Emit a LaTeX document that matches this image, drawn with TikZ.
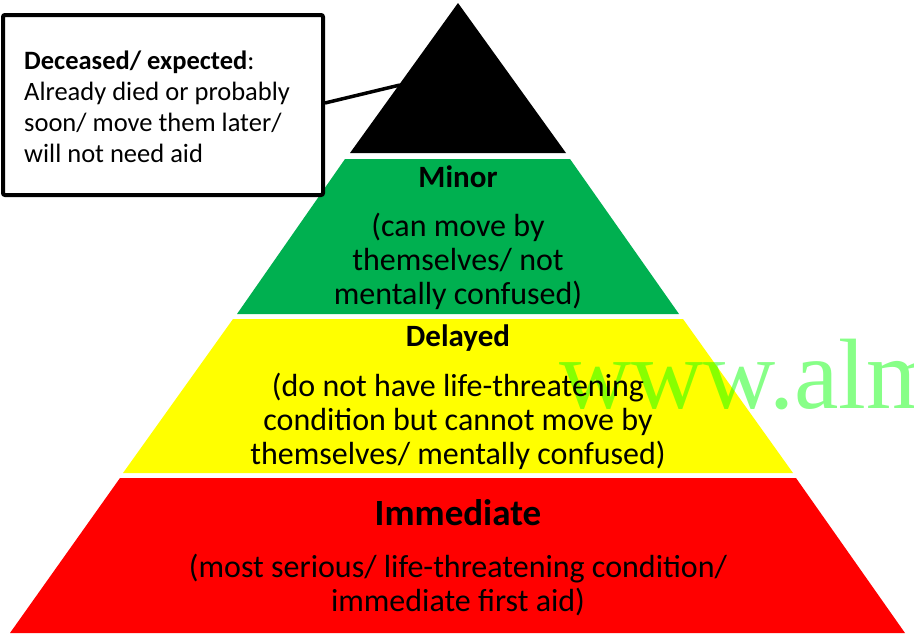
\documentclass[tikz,border=0pt]{standalone}
\usepackage{fontspec}
\setmainfont{Carlito}
\newfontfamily\wmfont{Liberation Serif}
\definecolor{lvgreen}{RGB}{0,176,80}
\definecolor{lvyellow}{RGB}{255,255,0}
\definecolor{lvred}{RGB}{255,0,0}
\definecolor{wmgreen}{RGB}{0,255,0}
\tikzset{
  lvtitle/.style={anchor=base, font=\fontsize{31}{35}\selectfont\bfseries},
  lvbig/.style={anchor=base, font=\fontsize{37}{40}\selectfont\bfseries},
  lvbody/.style={anchor=base, align=center, font=\fontsize{32}{35}\selectfont},
  callbox/.style={draw, line width=4pt, rounded corners=2pt, minimum width=320pt, minimum height=180pt, inner sep=0pt},
  calltext/.style={anchor=base west, align=left, inner sep=0pt, font=\fontsize{26.5}{31}\selectfont},
}
\begin{document}
\begin{tikzpicture}[x=1pt,y=-1pt]
\clip (0,0) rectangle (914,637);
\fill[white] (0,0) rectangle (914,637);
% pyramid levels
\fill[black]    (458,3) -- (566,153) -- (350,153) -- cycle;
\fill[lvgreen]  (345,159) -- (570,159) -- (679,314) -- (237,314) -- cycle;
\fill[lvyellow] (233,319) -- (683,319) -- (793,473) -- (123,473) -- cycle;
\fill[lvred]    (120,478) -- (796,478) -- (905,633) -- (10,633) -- cycle;
% watermark
\node[anchor=base west, inner sep=0pt, text=wmgreen, text opacity=0.47, font=\wmfont\fontsize{100}{104}\selectfont] (wm) at (559,408) {www.alm};
% level texts
\node[lvtitle] (minor) at (458,187) {Minor};
\node[lvbody] (minorA) at (458,236) {(can move by};
\node[lvbody] (minorB) at (458,270) {themselves/ not};
\node[lvbody] (minorC) at (458,304) {mentally confused)};
\node[lvtitle] (delayed) at (458,346) {Delayed};
\node[lvbody] (delA) at (458,396) {(do not have life-threatening};
\node[lvbody] (delB) at (458,430) {condition but cannot move by};
\node[lvbody] (delC) at (458,464) {themselves/ mentally confused)};
\node[lvbig] (imm) at (458,525) {Immediate};
\node[lvbody] (immA) at (458,577) {(most serious/ life-threatening condition/};
\node[lvbody] (immB) at (458,611) {immediate first aid)};
% callout
\node[callbox, fill=white] (box) at (163,105) {};
\node[calltext] (boxtext) at (24,162) {\textbf{Deceased/ expected}:\\Already died or probably\\soon/ move them later/\\will not need aid};
\coordinate (tip) at (400,85);
\draw[line width=3.5pt] (box.east) ++(0,-2) -- (tip);
\end{tikzpicture}
\end{document}
